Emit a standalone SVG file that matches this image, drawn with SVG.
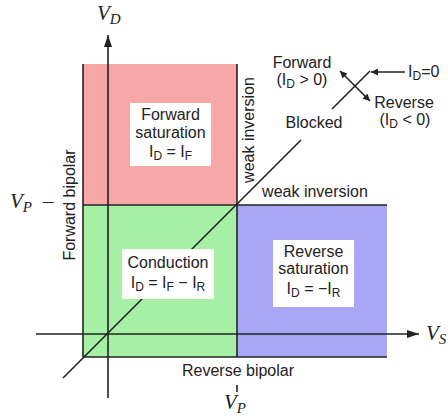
<svg xmlns="http://www.w3.org/2000/svg" width="448" height="420" viewBox="0 0 448 420">
<defs>
<style>
.t{font-family:"Liberation Sans",Arial,sans-serif;font-size:16px;fill:#222}
.m{text-anchor:middle}
.v{font-family:"Liberation Serif","Times New Roman",serif;font-style:italic;font-size:21px;fill:#222}
.ln{stroke:#222;stroke-width:1.6;fill:none}
.box{fill:#fff}
</style>
<marker id="ah" viewBox="0 0 10 10" refX="10" refY="5" markerWidth="5" markerHeight="5" orient="auto" markerUnits="userSpaceOnUse">
<path d="M0,0L10,5L0,10z" fill="#222"/>
</marker>
<marker id="ax" viewBox="0 0 12 8" refX="12" refY="4" markerWidth="12" markerHeight="8" orient="auto" markerUnits="userSpaceOnUse">
<path d="M0,0L12,4L0,8z" fill="#222"/>
</marker>
<marker id="sm" viewBox="0 0 8 8" refX="8" refY="4" markerWidth="8" markerHeight="7" orient="auto" markerUnits="userSpaceOnUse">
<path d="M0,0L8,4L0,8z" fill="#222"/>
</marker>
</defs>
<rect width="448" height="420" fill="#fff"/>
<g id="forward-saturation">
<rect x="83" y="64" width="154" height="141" fill="#F7A7A7"/>
<rect class="box" x="130" y="103" width="81" height="63"/>
<text class="t m" x="170.5" y="120">Forward</text>
<text class="t m" x="170.5" y="138">saturation</text>
<text class="t m" x="170.5" y="157">I<tspan font-size="12" dy="3">D</tspan><tspan dy="-3"> = I</tspan><tspan font-size="12" dy="3">F</tspan></text>
</g>
<g id="conduction">
<rect x="83" y="205" width="154" height="152" fill="#A6F0A6"/>
</g>
<g id="reverse-saturation">
<rect x="237" y="205" width="150" height="152" fill="#A7A7F6"/>
<rect class="box" x="273" y="240" width="81" height="67"/>
<text class="t m" x="313.5" y="257">Reverse</text>
<text class="t m" x="313.5" y="274">saturation</text>
<text class="t m" x="313.5" y="294">I<tspan font-size="12" dy="3">D</tspan><tspan dy="-3"> = −I</tspan><tspan font-size="12" dy="3">R</tspan></text>
</g>
<g id="connectors">
<line class="ln" x1="83" y1="64" x2="83" y2="357"/>
<line class="ln" x1="237" y1="64" x2="237" y2="357"/>
<line class="ln" x1="83" y1="205" x2="387" y2="205"/>
<line class="ln" x1="83" y1="357" x2="387" y2="357"/>
<line class="ln" x1="108" y1="398" x2="108" y2="35" marker-end="url(#ax)"/>
<line class="ln" x1="36" y1="334" x2="419" y2="334" marker-end="url(#ax)"/>
<line class="ln" x1="63" y1="378" x2="301" y2="140"/>
<line class="ln" x1="332" y1="109" x2="370" y2="71"/>
<line class="ln" x1="355" y1="86" x2="340" y2="71" marker-end="url(#sm)"/>
<line class="ln" x1="355" y1="86" x2="370" y2="101" marker-end="url(#sm)"/>
<line class="ln" x1="405" y1="72" x2="371" y2="72" stroke-width="1.2" marker-end="url(#sm)"/>
<line class="ln" x1="237" y1="385" x2="237" y2="392" stroke-width="1.2"/>
</g>
<g id="conduction-label">
<rect class="box" x="122" y="249" width="92" height="50"/>
<text class="t m" x="168" y="268">Conduction</text>
<text class="t m" x="168" y="288">I<tspan font-size="12" dy="3">D</tspan><tspan dy="-3"> = I</tspan><tspan font-size="12" dy="3">F</tspan><tspan dy="-3"> − I</tspan><tspan font-size="12" dy="3">R</tspan></text>
</g>
<g id="labels">
<text class="t" transform="translate(254,130) rotate(-90)" text-anchor="middle">weak inversion</text>
<text class="t m" x="315" y="197">weak inversion</text>
<text class="t" transform="translate(75,205) rotate(-90)" text-anchor="middle">Forward bipolar</text>
<text class="t m" x="238" y="376">Reverse bipolar</text>
<text class="t m" x="302" y="68">Forward</text>
<text class="t m" x="302" y="85">(I<tspan font-size="12" dy="3">D</tspan><tspan dy="-3"> &gt; 0)</tspan></text>
<text class="t m" x="404" y="108">Reverse</text>
<text class="t m" x="405" y="125">(I<tspan font-size="12" dy="3">D</tspan><tspan dy="-3"> &lt; 0)</tspan></text>
<text class="t m" x="314" y="128">Blocked</text>
<text class="t" x="408" y="77">I<tspan font-size="12" dy="3">D</tspan><tspan dy="-3">=0</tspan></text>
</g>
<g id="axis-labels">
<text class="v" x="97" y="20">V<tspan font-size="15" dy="4">D</tspan></text>
<text class="v" x="426" y="340">V<tspan font-size="15" dy="4">S</tspan></text>
<text class="v" x="224" y="409">V<tspan font-size="15" dy="4">P</tspan></text>
<text class="v" x="10" y="208">V<tspan font-size="15" dy="4">P</tspan></text>
<text class="v" x="43" y="208" font-style="normal">–</text>
</g>
</svg>
